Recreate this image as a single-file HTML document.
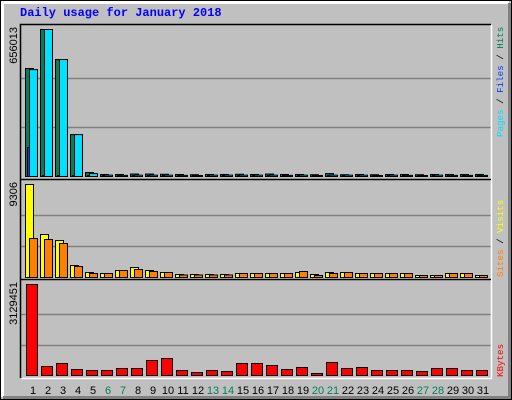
<!DOCTYPE html>
<html><head><meta charset="utf-8"><style>
html,body{margin:0;padding:0;background:#c0c0c0;}
svg{display:block;}
</style></head><body>
<svg id="chart" width="512" height="400" xmlns="http://www.w3.org/2000/svg" font-family="Liberation Sans, sans-serif">
<rect x="0" y="0" width="512" height="400" fill="#c0c0c0"/>
<rect x="0.5" y="0.5" width="511" height="399" fill="none" stroke="#000"/>
<path d="M2.5 397 V2.5 H509" stroke="#fff" stroke-width="3" fill="none"/>
<path d="M3 397.5 H509.5 V3" stroke="#808080" stroke-width="3" fill="none"/>
<text x="20" y="16" font-family="Liberation Mono, monospace" font-weight="bold" font-size="12" fill="#0000ff">Daily usage for January 2018</text>
<g id="g"></g>
</svg>
<script>
const days=[1,2,3,4,5,6,7,8,9,10,11,12,13,14,15,16,17,18,19,20,21,22,23,24,25,26,27,28,29,30,31];
const weekend=[6,7,13,14,20,21,27,28];
const hits=[482000,656013,522000,187000,17800,9000,9000,11000,11000,10000,9000,8000,9000,9000,10000,9000,11000,9000,9000,8000,13000,8000,9000,8000,9000,9000,8000,9000,9000,9000,9000];
const files=[129000,3000,3000,3000,4000,3000,3000,4000,4000,3000,3000,3000,3000,3000,4000,3000,4000,3000,3000,2000,3000,3000,3000,2000,3000,3000,2000,3000,3000,3000,3000];
const pages=[477000,656013,522000,187000,13000,6000,5000,6000,6000,6000,5000,3000,6000,6000,6000,6000,6000,5000,6000,3000,6000,6000,6000,3000,6000,5000,3000,6000,5000,5000,5000];
const visits=[9306,4300,3700,1200,500,400,700,1000,700,500,300,300,300,300,400,400,400,400,500,300,500,500,400,400,400,400,200,200,400,400,200];
const sites=[3900,3800,3400,1100,400,400,700,800,600,500,250,250,250,250,400,400,400,400,600,200,400,500,400,400,400,400,200,200,400,400,200];
const kbytes=[3129451,310000,413000,206000,172000,172000,241000,241000,516000,585000,172000,103000,172000,138000,413000,413000,344000,206000,275000,69000,447000,241000,275000,172000,172000,172000,138000,241000,241000,172000,172000];
const maxTop=656013,maxMid=9306,maxBot=3129451;
const NS="http://www.w3.org/2000/svg";
const g=document.getElementById('g');
function mk(t,a,p){const e=document.createElementNS(NS,t);for(const k in a)e.setAttribute(k,a[k]);(p||g).appendChild(e);return e;}
const X0=20,X1=491;
const panels=[{top:25,base:176,h:147},{top:180,base:277,h:93},{top:280,base:375,h:91}];
function xDay(i){return 25+i*15;}
function yS(p,v,max){return p.base-v/max*p.h;}
panels.forEach((p,k)=>{
  const bottom=k<2?panels[k+1].top-1:378;
  const bg=mk('rect',{x:X0,y:p.top,width:X1-X0,height:bottom-p.top,fill:'#c0c0c0'});
  
  
  for(let j=1;j<=2;j++){const y=Math.round(p.base-p.h*j/3)+0.5;
    const l=mk('line',{x1:X0+1,x2:X1,y1:y,y2:y,stroke:'#808080','stroke-width':1.5});
    
    }
  mk('path',{d:`M${X0+0.5} ${bottom} V${p.top-0.5} H${X1}`,stroke:'#000',fill:'none','stroke-width':1.5});
  mk('path',{d:`M${X0+1.5} ${bottom+0.5} H${X1+0.5} V${p.top}`,stroke:'#fff',fill:'none','stroke-width':1.5});
});
function bar(x,w,y,base,fill,name){
  const h=Math.max(1,base-y);
  const r=mk('rect',{x:x+0.5,y:Math.min(y,base-1)+0.5,width:w,height:h,fill:fill,stroke:'#000','stroke-width':1});
  
  
}
days.forEach((d,i)=>{
  const x=xDay(i);
  const p0=panels[0];
  bar(x,8,yS(p0,hits[i],maxTop),p0.base,'#00805c','bar-hits');
  bar(x+2,3,yS(p0,files[i],maxTop),p0.base,'#0040ff','bar-files');
  bar(x+4,8,yS(p0,pages[i],maxTop),p0.base,'#00e0ff','bar-pages');
  const p1=panels[1];
  bar(x,8,yS(p1,visits[i],maxMid),p1.base,'#ffff00','bar-visits');
  bar(x+4,8,yS(p1,sites[i],maxMid),p1.base,'#ff8000','bar-sites');
  const p2=panels[2];
  bar(x+1,11,yS(p2,kbytes[i],maxBot),p2.base,'#ff0000','bar-kbytes');
  const t=mk('text',{x:x+8,y:394,'text-anchor':'middle','font-size':11,fill:weekend.includes(d)?'#00805c':'#000'});
  t.textContent=d;
  
  
});
[[maxTop,27],[maxMid,182],[maxBot,282]].forEach(([v,y])=>{
  const t=mk('text',{x:0,y:0,transform:`translate(17,${y}) rotate(-90)`,'text-anchor':'end','font-size':11,fill:'#000'});
  t.textContent=v;
  
  
});
function legend(parts,yStart,name){
  const t=mk('text',{x:0,y:0,transform:`translate(503,${yStart}) rotate(-90)`,'font-family':'Liberation Mono, monospace','font-size':9.2});
  
  
  parts.forEach(([s,c])=>{const ts=mk('tspan',{fill:c},t);ts.textContent=s;});
}
legend([['Pages','#00e0ff'],[' / ','#000'],['Files','#0040ff'],[' / ','#000'],['Hits','#00805c']],137,'legend-pages-files-hits');
legend([['Sites','#ff8000'],[' / ','#000'],['Visits','#ffff00']],277,'legend-sites-visits');
legend([['KBytes','#ff0000']],377,'legend-kbytes');
</script>
</body></html>
